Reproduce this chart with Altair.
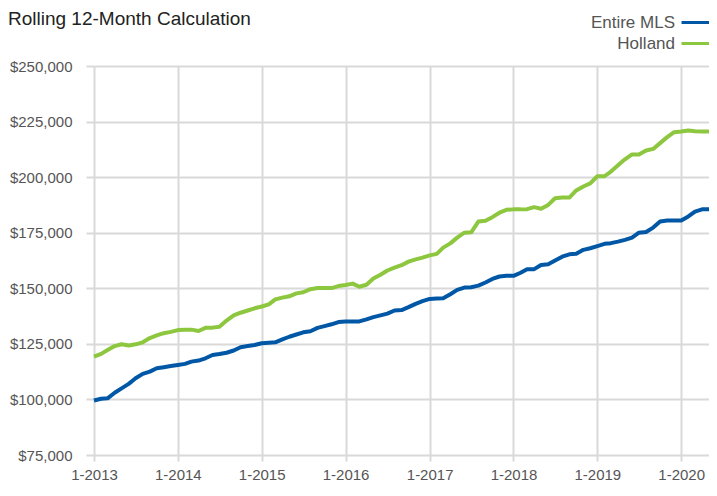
import altair as alt
import pandas as pd

months = [d.strftime("%Y-%m-01") for d in pd.date_range("2013-01-01", "2020-05-01", freq="MS")]

entire_mls = [
    99.5, 100.3, 100.5, 103, 105, 107, 109.5, 111.5, 112.5, 114, 114.5, 115,
    115.5, 116, 117, 117.5, 118.5, 120, 120.4, 121, 122, 123.5, 124, 124.5,
    125.3, 125.5, 125.7, 127, 128.2, 129.2, 130.2, 130.7, 132.2, 133, 133.8, 134.8,
    135.1, 135.1, 135.1, 136, 137, 137.8, 138.6, 140, 140.2, 141.5, 143, 144.2,
    145.2, 145.4, 145.5, 147.3, 149.3, 150.3, 150.5, 151.2, 152.6, 154.2, 155.3, 155.6,
    155.6, 157, 158.6, 158.6, 160.5, 160.8, 162.5, 164.2, 165.3, 165.5, 167.3, 168,
    169, 170, 170.3, 171, 171.8, 172.8, 175, 175.3, 177.3, 180, 180.5, 180.5,
    180.5, 182.3, 184.5, 185.5, 185.5,
]
holland = [
    119.3, 120.5, 122.2, 124, 124.8, 124.3, 124.8, 125.7, 127.6, 128.8, 129.8, 130.4,
    131.2, 131.4, 131.4, 130.8, 132.2, 132.3, 132.7, 135.5, 137.8, 139, 140, 141,
    141.8, 142.8, 145, 145.8, 146.4, 147.7, 148.2, 149.6, 150.1, 150.1, 150.1, 151,
    151.5, 152.1, 150.7, 151.6, 154.4, 156.1, 158, 159.3, 160.4, 162, 163, 163.8,
    164.8, 165.5, 168.3, 170.2, 172.8, 175, 175.2, 180, 180.4, 182, 184, 185.3,
    185.5, 185.5, 185.6, 186.5, 185.8, 187.5, 190.5, 190.8, 190.8, 194, 195.8, 197.2,
    200.4, 200.4, 202.5, 205.3, 208, 210.2, 210.2, 212, 212.7, 215.3, 218, 220.2,
    220.5, 221, 220.6, 220.5, 220.5,
]
series_names = ["Entire MLS", "Holland"]
series_colors = ["#0057a6", "#8dc63f"]
y_ticks = [75000, 100000, 125000, 150000, 175000, 200000, 225000, 250000]
x_ticks = ["2013-01-01", "2014-01-01", "2015-01-01", "2016-01-01",
           "2017-01-01", "2018-01-01", "2019-01-01", "2020-01-01"]
title_text = ["Rolling 12-Month Calculation"]

rows = []
for name, vals in zip(series_names, [entire_mls, holland]):
    for m, v in zip(months, vals):
        rows.append({"date": m, "series": name, "value": v * 1000})
df = pd.DataFrame(rows)

FONT = "Liberation Sans, Arial, sans-serif"
GRID = "#d9d9d9"

x_vals = [alt.DateTime(year=int(s[:4]), month=1, date=1, utc=True) for s in x_ticks]

lines = alt.Chart(df).mark_line(strokeWidth=4, strokeJoin="round").encode(
    x=alt.X("date:T",
            scale=alt.Scale(type="utc", domain=[alt.DateTime(year=2013, month=1, date=1, utc=True),
                                                alt.DateTime(year=2020, month=5, date=1, utc=True)], nice=False),
            axis=alt.Axis(title=None, values=x_vals,
                          labelExpr="(utcmonth(datum.value) + 1) + '-' + utcyear(datum.value)",
                          grid=True, gridColor=GRID, gridWidth=2,
                          ticks=True, tickColor=GRID, tickWidth=2, tickSize=6,
                          domain=False, labelFont=FONT, labelFontSize=15, labelColor="#555555",
                          labelPadding=6, labelFlush=False)),
    y=alt.Y("value:Q",
            scale=alt.Scale(domain=[75000, 250000], nice=False, zero=False),
            axis=alt.Axis(title=None, values=y_ticks, format="$,.0f",
                          grid=True, gridColor=GRID, gridWidth=2,
                          ticks=True, tickColor=GRID, tickWidth=2, tickSize=8,
                          domain=False, labelFont=FONT, labelFontSize=15, labelColor="#555555",
                          labelPadding=14)),
    color=alt.Color("series:N",
                    scale=alt.Scale(domain=series_names, range=series_colors),
                    legend=alt.Legend(orient="none", legendX=594.5, legendY=-52, title=None,
                                      symbolType="M-3.1,0H3.1", symbolStrokeWidth=3, symbolSize=100,
                                      labelAlign="right", labelOffset={"expr": "-30.5"},
                                      labelFont=FONT, labelFontSize=17, labelColor="#555555",
                                      rowPadding=3, padding=0)),
)

title = alt.Chart(pd.DataFrame({"t": title_text})).mark_text(
    align="left", baseline="alphabetic", font=FONT, fontSize=19, color="#222222"
).encode(x=alt.value(-86), y=alt.value(-41), text="t:N")

chart = alt.layer(lines, title).properties(
    width=615, height=389,
    autosize=alt.AutoSizeParams(type="none"),
    padding={"left": 86, "top": 58, "right": 0, "bottom": 28},
).configure_view(stroke=None)

chart.save("out.html", embed_options={"renderer": "svg", "actions": False})
